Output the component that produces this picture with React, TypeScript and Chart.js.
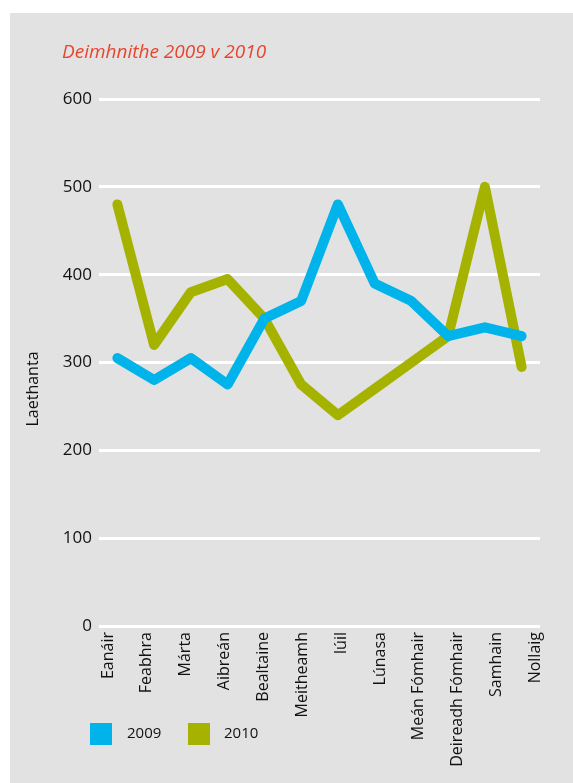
import React, { useEffect, useRef } from "react";
import { Chart, registerables } from "chart.js";

Chart.register(...registerables);

const months = [
  "Eanáir", "Feabhra", "Márta", "Aibreán", "Bealtaine", "Meitheamh",
  "Iúil", "Lúnasa", "Meán Fómhair", "Deireadh Fómhair", "Samhain", "Nollaig",
];
const values2009 = [305, 280, 305, 275, 350, 370, 480, 390, 370, 330, 340, 330];
const values2010 = [480, 320, 380, 395, 350, 275, 240, 270, 300, 330, 500, 295];
const seriesNames = ["2009", "2010"];
const yTicks = [0, 100, 200, 300, 400, 500, 600];
const chartTitle = "Deimhnithe 2009 v 2010";
const yTitle = "Laethanta";

const BLUE = "#00b3ea";
const GREEN = "#a5b300";
const FONT = "'Open Sans', 'Noto Sans', sans-serif";

const decorPlugin = {
  id: "decor",
  afterDraw(chart: any) {
    const ctx = chart.ctx as CanvasRenderingContext2D;
    ctx.save();
    // title
    ctx.font = `italic 19px ${FONT}`;
    ctx.fillStyle = "#e8452f";
    ctx.textAlign = "left";
    ctx.textBaseline = "middle";
    ctx.fillText(chartTitle, 52, 40);
    // y title
    ctx.save();
    ctx.translate(23, 376);
    ctx.rotate(-Math.PI / 2);
    ctx.font = `16px ${FONT}`;
    ctx.fillStyle = "#111";
    ctx.textAlign = "center";
    ctx.textBaseline = "middle";
    ctx.fillText(yTitle, 0, 0);
    ctx.restore();
    // legend
    const colors = [BLUE, GREEN];
    const boxX = [80, 178];
    const textX = [117, 214];
    ctx.font = `15px ${FONT}`;
    ctx.textBaseline = "middle";
    ctx.textAlign = "left";
    seriesNames.forEach((name, i) => {
      ctx.fillStyle = colors[i];
      ctx.fillRect(boxX[i], 710, 22, 22);
      ctx.fillStyle = "#111";
      ctx.fillText(name, textX[i], 721);
    });
    ctx.restore();
  },
};

export default function App() {
  const ref = useRef<HTMLCanvasElement | null>(null);
  useEffect(() => {
    if (!ref.current) return;
    Chart.defaults.font.family = FONT;
    const chart = new Chart(ref.current, {
      type: "line",
      data: {
        labels: months,
        datasets: [
          {
            label: seriesNames[0],
            data: values2009,
            borderColor: BLUE,
            backgroundColor: BLUE,
            borderWidth: 10,
            borderCapStyle: "round",
            borderJoinStyle: "round",
            pointRadius: 0,
            tension: 0,
          },
          {
            label: seriesNames[1],
            data: values2010,
            borderColor: GREEN,
            backgroundColor: GREEN,
            borderWidth: 10,
            borderCapStyle: "round",
            borderJoinStyle: "round",
            pointRadius: 0,
            tension: 0,
          },
        ],
      },
      options: {
        animation: false,
        responsive: true,
        maintainAspectRatio: false,
        layout: { padding: { top: 86, right: 33, left: 39, bottom: 17 } },
        plugins: {
          legend: { display: false },
          title: { display: false },
          tooltip: { enabled: false },
        },
        scales: {
          x: {
            type: "category",
            display: false,
            offset: true,
          },
          xl: {
            type: "linear",
            position: "bottom",
            min: -0.2316,
            max: 11.117,
            grid: { display: false, drawTicks: false },
            border: { display: false },
            ticks: {
              stepSize: 1,
              includeBounds: false,
              autoSkip: false,
              minRotation: 90,
              maxRotation: 90,
              padding: 6,
              color: "#111",
              font: { size: 16, family: FONT },
              callback: (v: any) => {
                const i = Math.round(Number(v));
                return Math.abs(Number(v) - i) < 1e-6 ? months[i] ?? "" : "";
              },
            },
            afterFit: (s: any) => {
              s.height = 140;
            },
          },
          y: {
            min: yTicks[0],
            max: yTicks[yTicks.length - 1],
            grid: { color: "#ffffff", lineWidth: 3, drawTicks: false },
            border: { display: false },
            ticks: {
              stepSize: 100,
              padding: 7,
              color: "#111",
              font: { size: 17, family: FONT },
            },
            afterFit: (s: any) => {
              s.width = 50;
            },
          },
        },
      },
      plugins: [decorPlugin],
    } as any);
    return () => chart.destroy();
  }, []);
  return (
    <div
      style={{
        position: "absolute",
        left: 10,
        top: 13,
        width: 563,
        height: 770,
        background: "#e2e2e2",
      }}
    >
      <canvas ref={ref} />
    </div>
  );
}
